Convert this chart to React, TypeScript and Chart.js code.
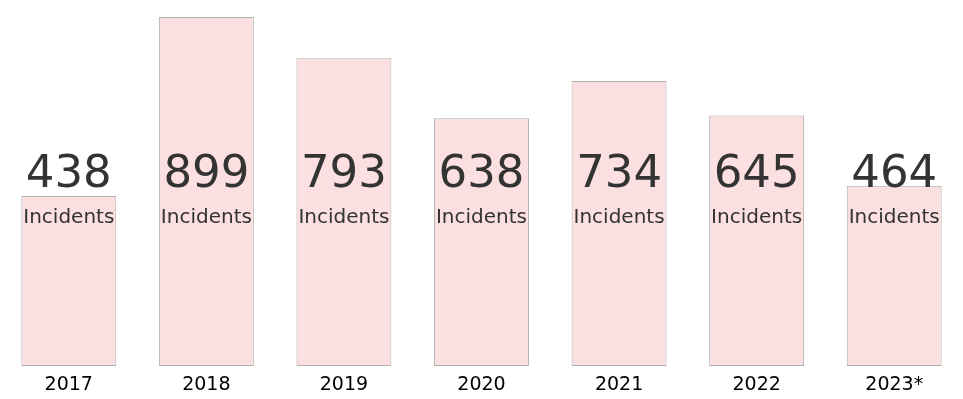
import React, { useEffect, useRef } from "react";
import { Chart, registerables } from "chart.js";

Chart.register(...registerables);

const years = ["2017", "2018", "2019", "2020", "2021", "2022", "2023*"];
const incidents = [438, 899, 793, 638, 734, 645, 464];
const unitLabel = "Incidents";

const labelPlugin = {
  id: "fixedLabels",
  afterDatasetsDraw(chart: any) {
    const { ctx, chartArea } = chart;
    const meta = chart.getDatasetMeta(0);
    const ds = chart.data.datasets[0];
    ctx.save();
    ctx.textAlign = "center";
    ctx.textBaseline = "alphabetic";
    meta.data.forEach((bar: any, i: number) => {
      ctx.fillStyle = "#333333";
      ctx.font = "45px 'DejaVu Sans'";
      ctx.fillText(String(ds.data[i]), bar.x, chartArea.bottom - 179);
      ctx.font = "20px 'DejaVu Sans'";
      ctx.fillText(unitLabel, bar.x, chartArea.bottom - 143);
    });
    ctx.restore();
  },
};

export default function App() {
  const ref = useRef<HTMLCanvasElement>(null);
  useEffect(() => {
    if (!ref.current) return;
    const chart = new Chart(ref.current, {
      type: "bar",
      data: {
        labels: years,
        datasets: [
          {
            data: incidents,
            backgroundColor: "#fce0e1",
            borderColor: "#b0b0b0",
            borderWidth: 1,
            borderSkipped: false,
            categoryPercentage: 1,
            barPercentage: 0.69,
          },
        ],
      },
      options: {
        animation: false,
        responsive: true,
        maintainAspectRatio: false,
        layout: { padding: { top: 17, left: 0, right: 0, bottom: 0 } },
        plugins: { legend: { display: false }, tooltip: { enabled: false } },
        scales: {
          x: {
            grid: { display: false, drawTicks: false },
            border: { display: false },
            ticks: {
              color: "#000000",
              font: { family: "'DejaVu Sans'", size: 19 },
              padding: 8,
              maxRotation: 0,
            },
            afterFit(scale: any) {
              scale.height = 33;
            },
          },
          y: {
            display: false,
            min: 0,
            max: 899,
          },
        },
      },
      plugins: [labelPlugin],
    });
    return () => chart.destroy();
  }, []);
  return (
    <div style={{ position: "fixed", left: 0, top: 0, width: 963, height: 399, background: "#fff" }}>
      <canvas ref={ref} />
    </div>
  );
}
